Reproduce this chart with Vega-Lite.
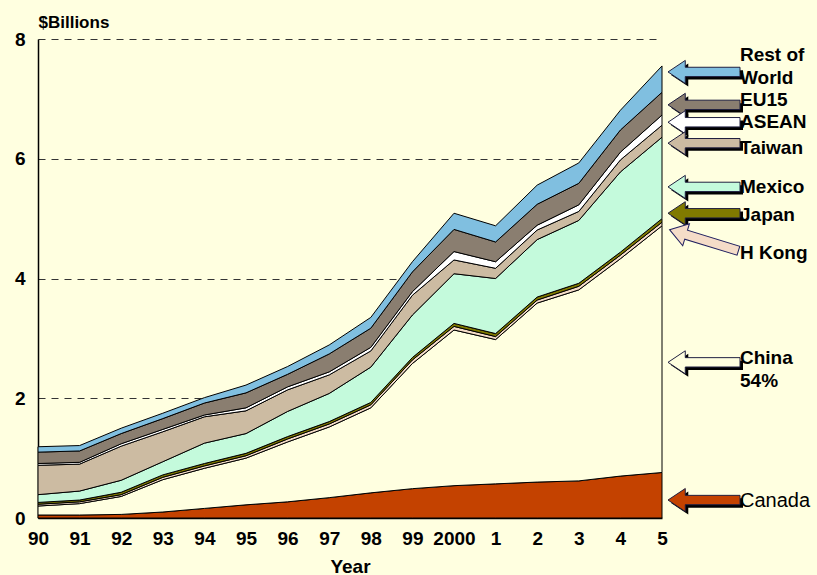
{
  "$schema": "https://vega.github.io/schema/vega-lite/v6.json",
  "width": 624,
  "height": 479,
  "autosize": {"type": "none"},
  "padding": {"left": 38, "top": 39, "right": 155, "bottom": 57},
  "background": "#FFFFE0",
  "config": {"view": {"stroke": null}, "font": "Liberation Sans"},
  "datasets": {
    "trade": [
      {"year":1990,"series":"Canada","value":0.05},{"year":1990,"series":"China","value":0.15},{"year":1990,"series":"H Kong","value":0.03},{"year":1990,"series":"Japan","value":0.03},{"year":1990,"series":"Mexico","value":0.13},{"year":1990,"series":"Taiwan","value":0.49},{"year":1990,"series":"ASEAN","value":0.03},{"year":1990,"series":"EU15","value":0.19},{"year":1990,"series":"Rest of World","value":0.09},
      {"year":1991,"series":"Canada","value":0.05},{"year":1991,"series":"China","value":0.19},{"year":1991,"series":"H Kong","value":0.03},{"year":1991,"series":"Japan","value":0.03},{"year":1991,"series":"Mexico","value":0.15},{"year":1991,"series":"Taiwan","value":0.45},{"year":1991,"series":"ASEAN","value":0.03},{"year":1991,"series":"EU15","value":0.19},{"year":1991,"series":"Rest of World","value":0.09},
      {"year":1992,"series":"Canada","value":0.06},{"year":1992,"series":"China","value":0.30},{"year":1992,"series":"H Kong","value":0.03},{"year":1992,"series":"Japan","value":0.04},{"year":1992,"series":"Mexico","value":0.20},{"year":1992,"series":"Taiwan","value":0.57},{"year":1992,"series":"ASEAN","value":0.04},{"year":1992,"series":"EU15","value":0.17},{"year":1992,"series":"Rest of World","value":0.09},
      {"year":1993,"series":"Canada","value":0.10},{"year":1993,"series":"China","value":0.54},{"year":1993,"series":"H Kong","value":0.04},{"year":1993,"series":"Japan","value":0.04},{"year":1993,"series":"Mexico","value":0.22},{"year":1993,"series":"Taiwan","value":0.50},{"year":1993,"series":"ASEAN","value":0.04},{"year":1993,"series":"EU15","value":0.18},{"year":1993,"series":"Rest of World","value":0.09},
      {"year":1994,"series":"Canada","value":0.16},{"year":1994,"series":"China","value":0.67},{"year":1994,"series":"H Kong","value":0.04},{"year":1994,"series":"Japan","value":0.04},{"year":1994,"series":"Mexico","value":0.34},{"year":1994,"series":"Taiwan","value":0.44},{"year":1994,"series":"ASEAN","value":0.03},{"year":1994,"series":"EU15","value":0.20},{"year":1994,"series":"Rest of World","value":0.09},
      {"year":1995,"series":"Canada","value":0.22},{"year":1995,"series":"China","value":0.78},{"year":1995,"series":"H Kong","value":0.04},{"year":1995,"series":"Japan","value":0.04},{"year":1995,"series":"Mexico","value":0.33},{"year":1995,"series":"Taiwan","value":0.38},{"year":1995,"series":"ASEAN","value":0.05},{"year":1995,"series":"EU15","value":0.25},{"year":1995,"series":"Rest of World","value":0.13},
      {"year":1996,"series":"Canada","value":0.27},{"year":1996,"series":"China","value":1.00},{"year":1996,"series":"H Kong","value":0.05},{"year":1996,"series":"Japan","value":0.04},{"year":1996,"series":"Mexico","value":0.42},{"year":1996,"series":"Taiwan","value":0.36},{"year":1996,"series":"ASEAN","value":0.05},{"year":1996,"series":"EU15","value":0.21},{"year":1996,"series":"Rest of World","value":0.13},
      {"year":1997,"series":"Canada","value":0.34},{"year":1997,"series":"China","value":1.18},{"year":1997,"series":"H Kong","value":0.05},{"year":1997,"series":"Japan","value":0.04},{"year":1997,"series":"Mexico","value":0.47},{"year":1997,"series":"Taiwan","value":0.31},{"year":1997,"series":"ASEAN","value":0.05},{"year":1997,"series":"EU15","value":0.30},{"year":1997,"series":"Rest of World","value":0.15},
      {"year":1998,"series":"Canada","value":0.42},{"year":1998,"series":"China","value":1.42},{"year":1998,"series":"H Kong","value":0.05},{"year":1998,"series":"Japan","value":0.04},{"year":1998,"series":"Mexico","value":0.59},{"year":1998,"series":"Taiwan","value":0.27},{"year":1998,"series":"ASEAN","value":0.06},{"year":1998,"series":"EU15","value":0.32},{"year":1998,"series":"Rest of World","value":0.18},
      {"year":1999,"series":"Canada","value":0.49},{"year":1999,"series":"China","value":2.09},{"year":1999,"series":"H Kong","value":0.06},{"year":1999,"series":"Japan","value":0.04},{"year":1999,"series":"Mexico","value":0.71},{"year":1999,"series":"Taiwan","value":0.33},{"year":1999,"series":"ASEAN","value":0.06},{"year":1999,"series":"EU15","value":0.33},{"year":1999,"series":"Rest of World","value":0.17},
      {"year":2000,"series":"Canada","value":0.54},{"year":2000,"series":"China","value":2.60},{"year":2000,"series":"H Kong","value":0.06},{"year":2000,"series":"Japan","value":0.05},{"year":2000,"series":"Mexico","value":0.83},{"year":2000,"series":"Taiwan","value":0.23},{"year":2000,"series":"ASEAN","value":0.14},{"year":2000,"series":"EU15","value":0.37},{"year":2000,"series":"Rest of World","value":0.27},
      {"year":2001,"series":"Canada","value":0.57},{"year":2001,"series":"China","value":2.41},{"year":2001,"series":"H Kong","value":0.05},{"year":2001,"series":"Japan","value":0.05},{"year":2001,"series":"Mexico","value":0.92},{"year":2001,"series":"Taiwan","value":0.17},{"year":2001,"series":"ASEAN","value":0.11},{"year":2001,"series":"EU15","value":0.33},{"year":2001,"series":"Rest of World","value":0.27},
      {"year":2002,"series":"Canada","value":0.60},{"year":2002,"series":"China","value":2.99},{"year":2002,"series":"H Kong","value":0.05},{"year":2002,"series":"Japan","value":0.05},{"year":2002,"series":"Mexico","value":0.96},{"year":2002,"series":"Taiwan","value":0.16},{"year":2002,"series":"ASEAN","value":0.08},{"year":2002,"series":"EU15","value":0.35},{"year":2002,"series":"Rest of World","value":0.32},
      {"year":2003,"series":"Canada","value":0.62},{"year":2003,"series":"China","value":3.19},{"year":2003,"series":"H Kong","value":0.06},{"year":2003,"series":"Japan","value":0.05},{"year":2003,"series":"Mexico","value":1.05},{"year":2003,"series":"Taiwan","value":0.15},{"year":2003,"series":"ASEAN","value":0.11},{"year":2003,"series":"EU15","value":0.36},{"year":2003,"series":"Rest of World","value":0.34},
      {"year":2004,"series":"Canada","value":0.70},{"year":2004,"series":"China","value":3.63},{"year":2004,"series":"H Kong","value":0.06},{"year":2004,"series":"Japan","value":0.05},{"year":2004,"series":"Mexico","value":1.34},{"year":2004,"series":"Taiwan","value":0.20},{"year":2004,"series":"ASEAN","value":0.13},{"year":2004,"series":"EU15","value":0.37},{"year":2004,"series":"Rest of World","value":0.33},
      {"year":2005,"series":"Canada","value":0.76},{"year":2005,"series":"China","value":4.12},{"year":2005,"series":"H Kong","value":0.06},{"year":2005,"series":"Japan","value":0.06},{"year":2005,"series":"Mexico","value":1.36},{"year":2005,"series":"Taiwan","value":0.20},{"year":2005,"series":"ASEAN","value":0.17},{"year":2005,"series":"EU15","value":0.38},{"year":2005,"series":"Rest of World","value":0.44}
    ],
    "labels": [
      {"series":"Rest of World","label":"Rest of\nWorld","ty":7.74,"ay":7.45},
      {"series":"EU15","label":"EU15","ty":6.98,"ay":6.90},
      {"series":"ASEAN","label":"ASEAN","ty":6.61,"ay":6.61},
      {"series":"Taiwan","label":"Taiwan","ty":6.18,"ay":6.26},
      {"series":"Mexico","label":"Mexico","ty":5.53,"ay":5.53},
      {"series":"Japan","label":"Japan","ty":5.06,"ay":5.09},
      {"series":"H Kong","label":"H Kong","ty":4.43,"ay":4.64},
      {"series":"China","label":"China\n54%","ty":2.67,"ay":2.60},
      {"series":"Canada","label":"Canada","ty":0.28,"ay":0.30}
    ]
  },
  "layer": [
    {
      "data": {"name": "trade"},
      "transform": [
        {"calculate": "indexof(['Canada','China','H Kong','Japan','Mexico','Taiwan','ASEAN','EU15','Rest of World'], datum.series)", "as": "ord"}
      ],
      "mark": {"type": "area", "stroke": "black", "strokeWidth": 1, "opacity": 1, "interpolate": "linear"},
      "encoding": {
        "x": {
          "field": "year", "type": "quantitative", "title": "Year",
          "scale": {"domain": [1990, 2005], "nice": false, "zero": false},
          "axis": {
            "values": [1990,1991,1992,1993,1994,1995,1996,1997,1998,1999,2000,2001,2002,2003,2004,2005],
            "labelExpr": "datum.value < 2000 ? '' + (datum.value - 1900) : datum.value == 2000 ? '2000' : '' + (datum.value - 2000)",
            "grid": false, "ticks": false, "domainColor": "black", "domainWidth": 1.5,
            "labelFontSize": 19, "labelFontWeight": "bold", "labelColor": "black", "labelPadding": 11,
            "labelFlush": false, "labelOverlap": false,
            "titleFontSize": 19, "titleFontWeight": "bold", "titleColor": "black", "titlePadding": 9
          }
        },
        "y": {
          "field": "value", "type": "quantitative", "stack": "zero", "title": "$Billions",
          "scale": {"domain": [0, 8], "nice": false},
          "axis": {
            "values": [0, 2, 4, 6, 8], "format": "d",
            "grid": true, "gridColor": "#333333", "gridDash": [7, 6], "gridWidth": 1.2,
            "ticks": false, "domainColor": "black", "domainWidth": 1.5,
            "labelFontSize": 19, "labelFontWeight": "bold", "labelColor": "black", "labelPadding": 13,
            "titleAngle": 0, "titleAlign": "left", "titleBaseline": "middle", "titleX": 0, "titleY": -17,
            "titleFontSize": 17, "titleFontWeight": "bold", "titleColor": "black"
          }
        },
        "color": {
          "field": "series", "type": "nominal", "legend": null,
          "sort": ["Canada","China","H Kong","Japan","Mexico","Taiwan","ASEAN","EU15","Rest of World"],
          "scale": {
            "domain": ["Canada","China","H Kong","Japan","Mexico","Taiwan","ASEAN","EU15","Rest of World"],
            "range": ["#C44200","#FFFFE0","#F5DCC8","#807A00","#C4FADC","#CCBBA2","#FFFFFF","#8A7E70","#80BFE0"]
          }
        },
        "order": {"field": "ord", "type": "quantitative"}
      }
    },
    {
      "mark": {"type": "rule", "color": "black", "strokeWidth": 1.5},
      "encoding": {"x": {"datum": 2005}}
    },
    {
      "data": {"name": "labels"},
      "transform": [{"filter": "datum.series != 'H Kong'"}],
      "mark": {"type": "point", "shape": "M -1 0 L -0.52 -0.32 L -0.52 -0.13 L 1 -0.13 L 1 0.13 L -0.52 0.13 L -0.52 0.32 Z", "size": 5184, "filled": true, "color": "black", "opacity": 1, "xOffset": 45, "yOffset": 3},
      "encoding": {
        "x": {"datum": 2005},
        "y": {"field": "ay", "type": "quantitative", "title": "$Billions"}
      }
    },
    {
      "data": {"name": "labels"},
      "transform": [{"filter": "datum.series != 'H Kong'"}],
      "mark": {"type": "point", "shape": "M -1 0 L -0.52 -0.32 L -0.52 -0.13 L 1 -0.13 L 1 0.13 L -0.52 0.13 L -0.52 0.32 Z", "size": 5184, "filled": true, "opacity": 1, "stroke": "#202040", "strokeWidth": 1, "xOffset": 42},
      "encoding": {
        "x": {"datum": 2005},
        "y": {"field": "ay", "type": "quantitative", "title": "$Billions"},
        "color": {"field": "series", "type": "nominal", "legend": null}
      }
    },
    {
      "data": {"name": "labels"},
      "transform": [{"filter": "datum.series == 'H Kong'"}],
      "mark": {"type": "point", "shape": "M -1 0 L -0.52 -0.32 L -0.52 -0.13 L 1 -0.13 L 1 0.13 L -0.52 0.13 L -0.52 0.32 Z", "size": 5184, "filled": true, "opacity": 1, "stroke": "#202060", "strokeWidth": 1, "xOffset": 42, "angle": 17},
      "encoding": {
        "x": {"datum": 2005},
        "y": {"field": "ay", "type": "quantitative", "title": "$Billions"},
        "color": {"field": "series", "type": "nominal", "legend": null}
      }
    },
    {
      "data": {"name": "labels"},
      "transform": [{"filter": "datum.series != 'Canada'"}],
      "mark": {"type": "text", "align": "left", "baseline": "middle", "dx": 78, "fontSize": 19, "fontWeight": "bold", "color": "black", "lineBreak": "\n", "lineHeight": 23},
      "encoding": {
        "x": {"datum": 2005},
        "y": {"field": "ty", "type": "quantitative", "title": "$Billions"},
        "text": {"field": "label"}
      }
    },
    {
      "data": {"name": "labels"},
      "transform": [{"filter": "datum.series == 'Canada'"}],
      "mark": {"type": "text", "align": "left", "baseline": "middle", "dx": 78, "fontSize": 20, "fontWeight": "normal", "color": "black"},
      "encoding": {
        "x": {"datum": 2005},
        "y": {"field": "ty", "type": "quantitative", "title": "$Billions"},
        "text": {"field": "label"}
      }
    }
  ]
}
